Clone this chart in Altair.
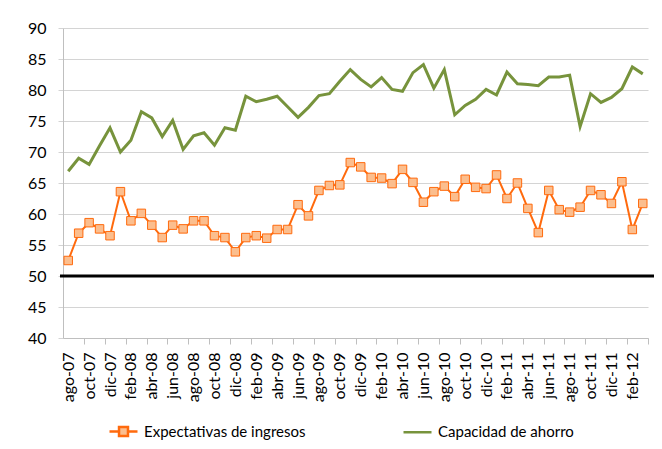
import json
import altair as alt
import pandas as pd

# ---------------- data ----------------
meses = [
    "ago-07", "sep-07", "oct-07", "nov-07", "dic-07",
    "ene-08", "feb-08", "mar-08", "abr-08", "may-08", "jun-08", "jul-08", "ago-08", "sep-08", "oct-08", "nov-08", "dic-08",
    "ene-09", "feb-09", "mar-09", "abr-09", "may-09", "jun-09", "jul-09", "ago-09", "sep-09", "oct-09", "nov-09", "dic-09",
    "ene-10", "feb-10", "mar-10", "abr-10", "may-10", "jun-10", "jul-10", "ago-10", "sep-10", "oct-10", "nov-10", "dic-10",
    "ene-11", "feb-11", "mar-11", "abr-11", "may-11", "jun-11", "jul-11", "ago-11", "sep-11", "oct-11", "nov-11", "dic-11",
    "ene-12", "feb-12", "mar-12",
]

expectativas = [
    52.5, 56.9, 58.6, 57.6, 56.5,
    63.6, 58.9, 60.1, 58.2, 56.2, 58.2, 57.6, 58.9, 58.9, 56.5, 56.2, 53.9,
    56.2, 56.5, 56.1, 57.5, 57.5, 61.5, 59.7, 63.8, 64.6, 64.7, 68.3, 67.6,
    65.9, 65.8, 64.9, 67.2, 65.1, 61.9, 63.6, 64.5, 62.8, 65.6, 64.3, 64.1,
    66.3, 62.5, 65.0, 60.9, 57.0, 63.8, 60.7, 60.3, 61.1, 63.8, 63.1, 61.7,
    65.2, 57.5, 61.7,
]

capacidad = [
    66.9, 69.0, 68.0, 71.0, 73.9,
    70.0, 71.9, 76.5, 75.5, 72.5, 75.1, 70.4, 72.6, 73.1, 71.1, 73.9, 73.5,
    79.0, 78.1, 78.5, 79.0, 77.3, 75.6, 77.2, 79.1, 79.4, 81.4, 83.3, 81.7,
    80.5, 82.0, 80.1, 79.8, 82.8, 84.1, 80.3, 83.3, 76.0, 77.5, 78.5, 80.1,
    79.2, 82.9, 81.0, 80.9, 80.7, 82.1, 82.1, 82.4, 74.1, 79.4, 78.0, 78.8,
    80.2, 83.7, 82.6,
]

umbral = [50]
y_ticks = [40, 45, 50, 55, 60, 65, 70, 75, 80, 85, 90]

EXP = "Expectativas de ingresos"
CAP = "Capacidad de ahorro"

ORANGE = "#FF6A0D"
FILL = "#FBBE8E"
GREEN = "#77933C"
GRID = "#D4D4D4"
AXIS = "#BFBFBF"
FONT = "Lato"

df = pd.DataFrame({
    "mes": meses + meses,
    "serie": [EXP] * len(meses) + [CAP] * len(meses),
    "valor": expectativas + capacidad,
})
df_ref = pd.DataFrame({"valor": umbral})

label_list = json.dumps(meses[::2])
tick_list = json.dumps(meses[1::2])

x_enc = alt.X(
    "mes:N",
    sort=meses,
    scale=alt.Scale(type="band", paddingInner=0, paddingOuter=0),
    axis=alt.Axis(
        title=None,
        labelAngle=-90,
        tickBand="extent",
        labelExpr=f"indexof({label_list}, datum.value) >= 0 ? datum.label : ''",
        tickOpacity={"expr": f"indexof({tick_list}, datum.value) >= 0 ? 1 : 0"},
        tickSize=6,
        tickColor=AXIS,
        domainColor=AXIS,
        labelFont=FONT,
        labelFontSize=16,
        labelColor="#000000",
        labelPadding=8,
        grid=False,
    ),
)

y_enc = alt.Y(
    "valor:Q",
    scale=alt.Scale(domain=[40, 90], nice=False, zero=False),
    axis=alt.Axis(
        title=None,
        values=y_ticks,
        grid=True,
        gridColor=GRID,
        gridWidth=1.2,
        domainColor=AXIS,
        tickColor=GRID,
        tickSize=5,
        labelFont=FONT,
        labelFontSize=16,
        labelColor="#000000",
        labelPadding=12,
    ),
)

legend_path = "M-1,0H-0.32M0.32,0H1M-0.32,-0.32H0.32V0.32H-0.32Z"


def make_legend():
    return alt.Legend(
        title=None,
        orient="none",
        direction="horizontal",
        legendX=45,
        legendY=388,
        columnPadding=92,
        labelOffset=5,
        labelFont=FONT,
        labelFontSize=15,
        labelLimit=400,
        labelColor="#000000",
        symbolSize=784,
        symbolStrokeWidth=2.5,
        symbolOpacity=1,
    )


stroke_enc = alt.Stroke(
    "serie:N",
    scale=alt.Scale(domain=[EXP, CAP], range=[ORANGE, GREEN]),
    legend=make_legend(),
)
fill_enc = alt.Fill(
    "serie:N",
    scale=alt.Scale(domain=[EXP, CAP], range=[FILL, "transparent"]),
    legend=make_legend(),
)
shape_enc = alt.Shape(
    "serie:N",
    scale=alt.Scale(domain=[EXP, CAP], range=[legend_path, "stroke"]),
    legend=make_legend(),
)

base = alt.Chart(df)

ref_rule = alt.Chart(df_ref).mark_rule(color="black", strokeWidth=3).encode(
    y=y_enc,
    x=alt.value(-3),
    x2=alt.value(591),
)

cap_line = base.transform_filter(alt.datum.serie == CAP).mark_line(strokeWidth=3).encode(
    x=x_enc, y=y_enc, stroke=stroke_enc
)
exp_line = base.transform_filter(alt.datum.serie == EXP).mark_line(strokeWidth=2).encode(
    x=x_enc, y=y_enc, stroke=stroke_enc
)
exp_pts = base.transform_filter(alt.datum.serie == EXP).mark_point(
    shape="square", size=72, filled=True, fill=FILL, stroke=ORANGE, strokeWidth=1, opacity=1
).encode(x=x_enc, y=y_enc)

# legend-only layer (no marks drawn): supplies symbol shape and fill for the shared legend
legend_layer = base.transform_filter("false").mark_point().encode(
    x=x_enc, y=y_enc, stroke=stroke_enc, fill=fill_enc, shape=shape_enc
)

chart = (
    alt.layer(ref_rule, cap_line, exp_line, exp_pts, legend_layer)
    .properties(
        width=585,
        height=310,
        autosize=alt.AutoSizeParams(type="none"),
        padding={"left": 55, "top": 20, "right": 6, "bottom": 105},
        background="white",
    )
    .configure_view(stroke=None)
)

chart.save("out.html", embed_options={"renderer": "svg", "actions": False})
